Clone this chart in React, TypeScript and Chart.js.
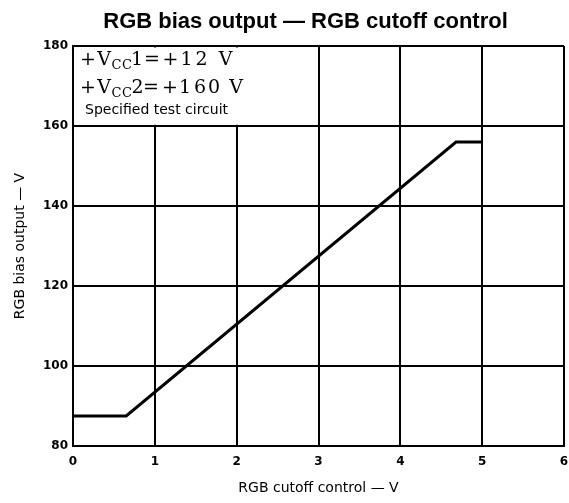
import React, { useEffect, useRef } from "react";
import { Chart, registerables } from "chart.js";

Chart.register(...registerables);

// ---- data ----
const xTicks = [0, 1, 2, 3, 4, 5, 6];
const yTicks = [80, 100, 120, 140, 160, 180];
const cutoffVolts = [0, 0.65, 4.68, 5.0];
const biasVolts = [87.5, 87.5, 156, 156];

const titleText = "RGB bias output — RGB cutoff control";
const xTitleText = "RGB cutoff control — V";
const yTitleText = "RGB bias output — V";
const noteSmallText = "Specified test circuit";
// note lines: characters, each flagged as subscript or not
const noteLine1 = ["+", "V", "C", "C", "1", "=", "+", "1", "2", "V"];
const noteLine2 = ["+", "V", "C", "C", "2", "=", "+", "1", "6", "0", "V"];

// ---- styling (positions relative to plot area) ----
const note1Centers = [15, 31, 43.5, 54, 64, 79, 97.5, 113.5, 128.5, 152.5];
const note1Sub = [false, false, true, true, false, false, false, false, false, false];
const note2Centers = [15, 31, 43.5, 54, 64.5, 78, 97, 112, 127, 141, 163];
const note2Sub = [false, false, true, true, false, false, false, false, false, false, false];

const annotationPlugin = {
  id: "annot",
  beforeDatasetsDraw(chart: any) {
    const { ctx, chartArea, scales } = chart;
    const x = scales.x;
    const y = scales.y;
    ctx.save();
    // white panel in the top-left cell that hides grid lines behind the note
    const l = chartArea.left + 1.5;
    const t = y.getPixelForValue(180) + 1.5;
    const r = x.getPixelForValue(2.6);
    const b = y.getPixelForValue(160) - 1.2;
    ctx.fillStyle = "#fff";
    ctx.fillRect(l, t, r - l, b - t);
    ctx.restore();
  },
  afterDraw(chart: any) {
    const { ctx, chartArea } = chart;
    const L = chartArea.left;
    const T = chartArea.top;
    ctx.save();
    ctx.fillStyle = "#000";
    // main title
    ctx.font = "bold 22px 'Liberation Sans', Arial, sans-serif";
    ctx.textAlign = "center";
    ctx.textBaseline = "alphabetic";
    ctx.fillText(titleText, 305.5, 28);

    const drawLine = (chars: string[], centers: number[], subs: boolean[], base: number) => {
      chars.forEach((c, i) => {
        const sub = subs[i];
        ctx.font = sub ? "13px 'DejaVu Serif', serif" : "19px 'DejaVu Serif', serif";
        ctx.textAlign = "center";
        ctx.fillText(c, L + centers[i], T + base + (sub ? 4 : 0));
      });
    };
    drawLine(noteLine1, note1Centers, note1Sub, 19);
    drawLine(noteLine2, note2Centers, note2Sub, 47);

    ctx.font = "14px 'DejaVu Sans', sans-serif";
    ctx.textAlign = "left";
    ctx.fillText(noteSmallText, L + 12, T + 68);
    ctx.restore();
  },
};

export default function App() {
  const ref = useRef<HTMLCanvasElement | null>(null);
  useEffect(() => {
    if (!ref.current) return;
    const chart = new Chart(ref.current, {
      type: "line",
      data: {
        datasets: [
          {
            data: cutoffVolts.map((v, i) => ({ x: v, y: biasVolts[i] })),
            borderColor: "#000",
            borderWidth: 3,
            pointRadius: 0,
            tension: 0,
            fill: false,
          },
        ],
      },
      options: {
        responsive: false,
        animation: false,
        layout: { padding: { top: 46, right: 5, left: 0, bottom: 0 } },
        plugins: {
          legend: { display: false },
          tooltip: { enabled: false },
          title: { display: false },
        },
        scales: {
          x: {
            type: "linear",
            min: xTicks[0],
            max: xTicks[xTicks.length - 1],
            afterFit: (s: any) => {
              s.height = 57;
              s.paddingRight = 0;
              s.paddingLeft = 0;
            },
            ticks: {
              stepSize: 1,
              padding: 9,
              color: "#000",
              font: { family: "'DejaVu Sans', sans-serif", size: 12, weight: "bold" },
              maxRotation: 0,
            },
            grid: { color: "#000", lineWidth: 2, drawTicks: false },
            border: { color: "#000", width: 2 },
            title: {
              display: true,
              text: xTitleText,
              color: "#000",
              font: { family: "'DejaVu Sans', sans-serif", size: 14 },
              padding: { top: 0, bottom: 6 },
            },
          },
          y: {
            type: "linear",
            min: yTicks[0],
            max: yTicks[yTicks.length - 1],
            afterFit: (s: any) => {
              s.width = 73;
            },
            ticks: {
              stepSize: 20,
              padding: 5,
              color: "#000",
              font: { family: "'DejaVu Sans', sans-serif", size: 12, weight: "bold" },
            },
            grid: { color: "#000", lineWidth: 2, drawTicks: false },
            border: { color: "#000", width: 2 },
            title: {
              display: true,
              text: yTitleText,
              color: "#000",
              font: { family: "'DejaVu Sans', sans-serif", size: 14 },
              padding: { top: 12, bottom: 0 },
            },
          },
        },
      },
      plugins: [annotationPlugin],
    });
    return () => chart.destroy();
  }, []);
  return (
    <div style={{ position: "fixed", left: 0, top: 0, width: 569, height: 503, background: "#fff" }}>
      <canvas ref={ref} width={569} height={503} />
    </div>
  );
}
